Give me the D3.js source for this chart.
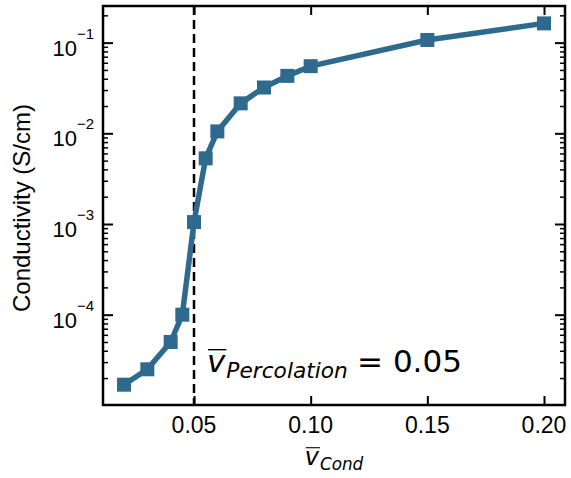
<!DOCTYPE html>
<html>
<head>
<meta charset="utf-8">
<script src="https://cdn.jsdelivr.net/npm/d3@7"></script>
<style>
body { margin: 0; background: #fff; }
</style>
</head>
<body>
<div id="chart"></div>
<script>
// data
var volFrac = [0.02, 0.03, 0.04, 0.045, 0.05, 0.055, 0.06, 0.07, 0.08, 0.09, 0.10, 0.15, 0.20];
var conductivity = [1.69e-5, 2.5e-5, 5.0e-5, 1.0e-4, 1.05e-3, 5.3e-3, 1.05e-2, 2.14e-2, 3.2e-2, 4.3e-2, 5.5e-2, 1.07e-1, 1.63e-1];
var xTicks = [0.05, 0.10, 0.15, 0.20];
var yTickExp = [-4, -3, -2, -1];
var percolation = 0.05;

var W = 571, H = 478;
var L = 103, R = 565, T = 6, B = 405;
var COLOR = "#2e6a8e";
var SANS = "'Liberation Sans', Arial, sans-serif";
var MATH = "'DejaVu Sans', sans-serif";

var svg = d3.select("#chart")
			.append("svg")
			.attr("width", W)
			.attr("height", H);

var x = d3.scaleLinear().domain([0.011, 0.209]).range([L, R]);
var y = d3.scaleLog().domain([Math.pow(10, -4.996), Math.pow(10, -0.596)]).range([B, T]);

var yMajor = yTickExp.map(function(e) { return Math.pow(10, e); });
var yMinor = [];
for (var e = -5; e <= -1; e++)
	for (var m = 2; m <= 9; m++)
	{
		var v = m * Math.pow(10, e);
		if (v >= y.domain()[0] && v <= y.domain()[1]) yMinor.push(v);
	}

function styleAxis(g, w)
{
	g.select(".domain").remove();
	g.selectAll("line").attr("stroke", "#000").attr("stroke-width", w);
	g.selectAll("text").remove();
}

// inward ticks on all four sides
svg.append("g").attr("transform", "translate(0," + B + ")")
	.call(d3.axisBottom(x).tickValues(xTicks).tickSize(-9)).call(styleAxis, 2);
svg.append("g").attr("transform", "translate(0," + T + ")")
	.call(d3.axisTop(x).tickValues(xTicks).tickSize(-9)).call(styleAxis, 2);
svg.append("g").attr("transform", "translate(" + L + ",0)")
	.call(d3.axisLeft(y).tickValues(yMajor).tickSize(-10)).call(styleAxis, 2);
svg.append("g").attr("transform", "translate(" + L + ",0)")
	.call(d3.axisLeft(y).tickValues(yMinor).tickSize(-5)).call(styleAxis, 1.5);
svg.append("g").attr("transform", "translate(" + R + ",0)")
	.call(d3.axisRight(y).tickValues(yMajor).tickSize(-10)).call(styleAxis, 2);
svg.append("g").attr("transform", "translate(" + R + ",0)")
	.call(d3.axisRight(y).tickValues(yMinor).tickSize(-5)).call(styleAxis, 1.5);

// x tick labels
svg.selectAll(".xlab")
	.data(xTicks)
	.enter().append("text")
	.attr("x", function(d) { return x(d); })
	.attr("y", 433)
	.attr("text-anchor", "middle")
	.style("font-family", SANS)
	.style("font-size", "23px")
	.text(function(d) { return d.toFixed(2); });

// y tick labels 10^k
var yl = svg.selectAll(".ylab")
	.data(yTickExp)
	.enter().append("text")
	.attr("x", 94)
	.attr("y", function(d) { return y(Math.pow(10, d)) + 13; })
	.attr("text-anchor", "end")
	.style("font-family", SANS)
	.style("font-size", "22px");
yl.append("tspan").text("10");
yl.append("tspan").attr("dy", -17).style("font-size", "15px").text(function(d) { return "\u2212" + Math.abs(d); });

// y axis label
svg.append("text")
	.attr("transform", "translate(30,208) rotate(-90)")
	.attr("text-anchor", "middle")
	.style("font-family", SANS)
	.style("font-size", "24px")
	.text("Conductivity (S/cm)");

// percolation line
svg.append("line")
	.attr("x1", x(percolation)).attr("x2", x(percolation))
	.attr("y1", T).attr("y2", B)
	.attr("stroke", "#000")
	.attr("stroke-width", 2.5)
	.attr("stroke-dasharray", "9,5");

// data line and square markers
var line = d3.line()
	.x(function(d, i) { return x(volFrac[i]); })
	.y(function(d) { return y(d); });

svg.append("path")
	.datum(conductivity)
	.attr("d", line)
	.attr("fill", "none")
	.attr("stroke", COLOR)
	.attr("stroke-width", 5.5)
	.attr("stroke-linejoin", "round");

var S = 14;
svg.selectAll(".pt")
	.data(conductivity)
	.enter().append("rect")
	.attr("x", function(d, i) { return x(volFrac[i]) - S / 2; })
	.attr("y", function(d) { return y(d) - S / 2; })
	.attr("width", S)
	.attr("height", S)
	.attr("fill", COLOR);

// frame
svg.append("rect")
	.attr("x", L).attr("y", T)
	.attr("width", R - L).attr("height", B - T)
	.attr("fill", "none")
	.attr("stroke", "#000")
	.attr("stroke-width", 2.5);

// math-style label: v-bar with italic subscript, then optional suffix
function mathLabel(x0, y0, size, sub, suffix, anchorMid)
{
	var g = svg.append("g");
	var v = g.append("text")
		.attr("x", 0).attr("y", 0)
		.style("font-family", MATH)
		.style("font-style", "italic")
		.style("font-size", size + "px")
		.text("v");
	var vw = v.node().getComputedTextLength();
	g.append("line")
		.attr("x1", 1).attr("x2", vw + 1)
		.attr("y1", -size * 0.72).attr("y2", -size * 0.72)
		.attr("stroke", "#000")
		.attr("stroke-width", size * 0.045);
	var s = g.append("text")
		.attr("x", vw + 1).attr("y", size * 0.2)
		.style("font-family", MATH)
		.style("font-style", "italic")
		.style("font-size", (size * 0.7) + "px")
		.text(sub);
	var total = vw + 1 + s.node().getComputedTextLength();
	if (suffix)
	{
		var t = g.append("text")
			.attr("x", total + size * 0.3).attr("y", 0)
			.style("font-family", MATH)
			.style("font-size", size + "px")
			.text(suffix);
		total += size * 0.3 + t.node().getComputedTextLength();
	}
	var ox = anchorMid ? x0 - total / 2 : x0;
	g.attr("transform", "translate(" + ox + "," + y0 + ")");
}

mathLabel(207, 372, 31, "Percolation", "= 0.05", false);
mathLabel((L + R) / 2, 465, 24, "Cond", null, true);
</script>
</body>
</html>
